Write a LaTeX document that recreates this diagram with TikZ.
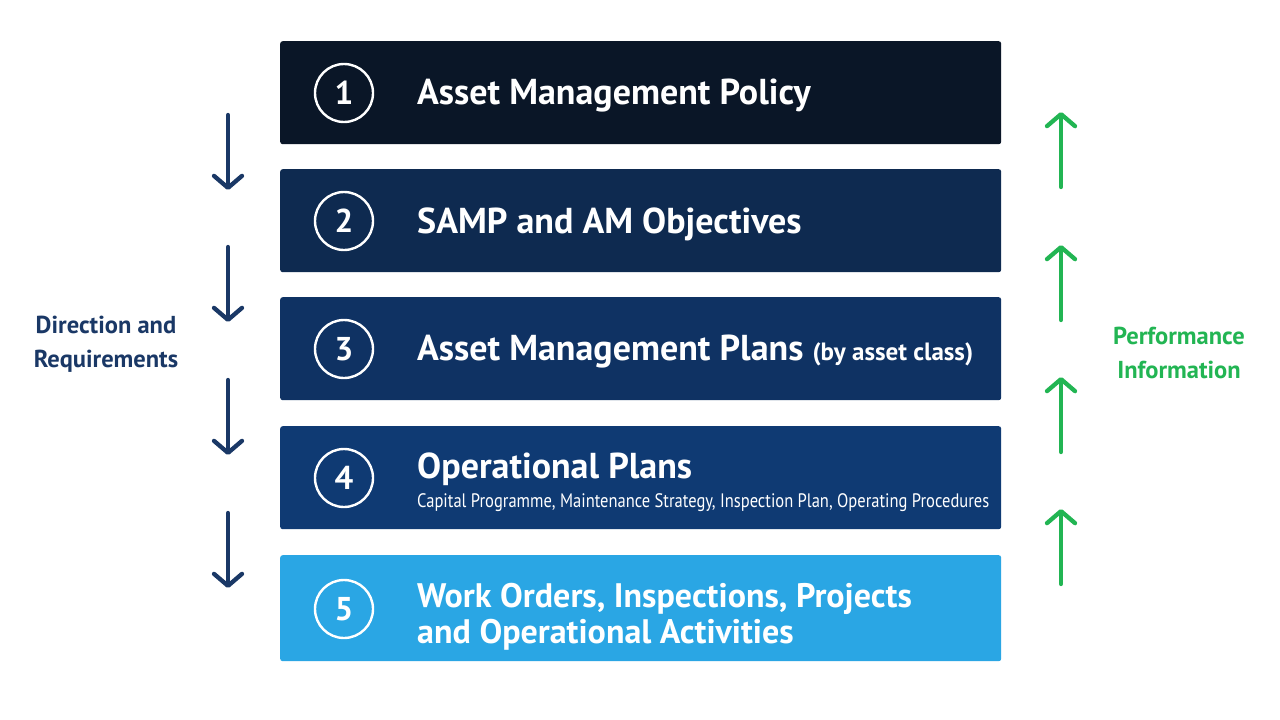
\documentclass[tikz,border=0pt]{standalone}
\usepackage{fontspec}
\setmainfont{PT Sans}
\usetikzlibrary{arrows.meta}
\definecolor{boxA}{HTML}{0A1627}
\definecolor{boxB}{HTML}{0E2A50}
\definecolor{boxC}{HTML}{0F3263}
\definecolor{boxD}{HTML}{0F3A73}
\definecolor{boxE}{HTML}{2AA6E4}
\definecolor{navyarrow}{HTML}{1A3866}
\definecolor{greenarrow}{HTML}{22B553}
\tikzset{
  layer/.style={rounded corners=2.5pt, minimum width=721pt, minimum height=103pt, inner sep=0pt, anchor=north west},
  numcircle/.style={circle, draw=white, line width=2.4pt, minimum size=58pt, inner sep=0pt, text=white, font=\fontsize{33}{33}\selectfont\bfseries},
  title/.style={anchor=west, text=white, inner sep=0pt, font=\fontsize{36}{36}\selectfont\bfseries},
  subtitle/.style={anchor=west, text=white, inner sep=0pt, font=\fontsize{19.5}{19.5}\selectfont},
  downarrow/.style={draw=navyarrow, line width=4.3pt, line cap=round, -{Straight Barb[length=12pt,width=28pt,line width=4.3pt,round]}},
  uparrow/.style={draw=greenarrow, line width=4.3pt, line cap=round, -{Straight Barb[length=12pt,width=28pt,line width=4.3pt,round]}},
  sidelabel/.style={align=center, inner sep=0pt, font=\fontsize{24.5}{34}\selectfont\bfseries}
}
\begin{document}
\begin{tikzpicture}[x=1pt,y=-1pt]
\useasboundingbox[fill=white] (0,0) rectangle (1280,720);
% layers
\node[layer, fill=boxA] (L1) at (280,41) {};
\node[layer, fill=boxB] (L2) at (280,169) {};
\node[layer, fill=boxC] (L3) at (280,297) {};
\node[layer, fill=boxD] (L4) at (280,426) {};
\node[layer, fill=boxE, minimum height=106pt] (L5) at (280,555) {};
% numbers
\node[numcircle] (c1) at (344,93) {1};
\node[numcircle] (c2) at (344,221) {2};
\node[numcircle] (c3) at (344,349) {3};
\node[numcircle] (c4) at (344,478) {4};
\node[numcircle] (c5) at (344,609) {5};
% titles
\node[title] (t1) at (417,96) {Asset Management Policy};
\node[title] (t2) at (417,224) {SAMP and AM Objectives};
\node[title] (t3) at (417,352) {Asset Management Plans \fontsize{25}{25}\selectfont(by asset class)};
\node[title] (t4) at (417,469) {Operational Plans};
\node[subtitle] (s4) at (417,503) {\scalebox{0.847}[1]{Capital Programme, Maintenance Strategy, Inspection Plan, Operating Procedures}};
\node[title, align=left, font=\fontsize{34}{36.5}\selectfont\bfseries] (t5) at (417,617) {Work Orders, Inspections, Projects\\and Operational Activities};
% left arrows
\coordinate (d1a) at (228,115); \coordinate (d1b) at (228,190);
\coordinate (d2a) at (228,247); \coordinate (d2b) at (228,322);
\coordinate (d3a) at (228,380); \coordinate (d3b) at (228,455);
\coordinate (d4a) at (228,513); \coordinate (d4b) at (228,588);
\draw[downarrow] (d1a) -- (d1b);
\draw[downarrow] (d2a) -- (d2b);
\draw[downarrow] (d3a) -- (d3b);
\draw[downarrow] (d4a) -- (d4b);
% right arrows
\coordinate (u1a) at (1061,187); \coordinate (u1b) at (1061,112);
\coordinate (u2a) at (1061,320); \coordinate (u2b) at (1061,245);
\coordinate (u3a) at (1061,452); \coordinate (u3b) at (1061,377);
\coordinate (u4a) at (1061,584); \coordinate (u4b) at (1061,509);
\draw[uparrow] (u1a) -- (u1b);
\draw[uparrow] (u2a) -- (u2b);
\draw[uparrow] (u3a) -- (u3b);
\draw[uparrow] (u4a) -- (u4b);
% side labels
\node[sidelabel, text=navyarrow] (dir) at (106,344) {Direction and\\Requirements};
\node[sidelabel, text=greenarrow] (perf) at (1179,353) {Performance\\Information};
\end{tikzpicture}
\end{document}
